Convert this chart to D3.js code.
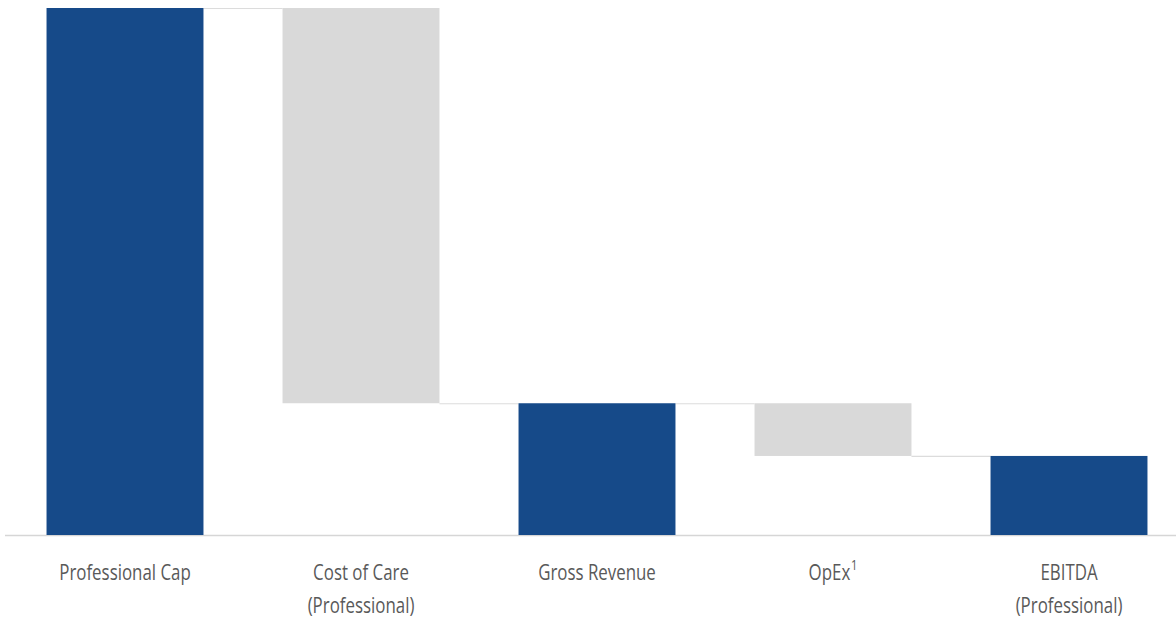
<!DOCTYPE html>
<html>
<head>
<meta charset="utf-8">
<script src="https://cdn.jsdelivr.net/npm/d3@7"></script>
<style>
  html, body { margin: 0; padding: 0; background: #ffffff; }
  svg { display: block; }
</style>
</head>
<body>
<svg id="chart" width="1176" height="627"></svg>
<script>
// ---- Data ----
const categories = ["Professional Cap", "Cost of Care (Professional)", "Gross Revenue", "OpEx", "EBITDA (Professional)"];
const labelLines = [["Professional Cap"], ["Cost of Care", "(Professional)"], ["Gross Revenue"], ["OpEx"], ["EBITDA", "(Professional)"]];
const labelSup = ["", "", "", "1", ""];
const deltas = [100, -75, null, -10, null];   // null = subtotal
const kinds = ["total", "decrease", "total", "decrease", "total"];

// ---- Build waterfall ----
let running = 0;
const bars = categories.map((c, i) => {
  let y0, y1;
  if (kinds[i] === "total") {
    if (deltas[i] !== null) running = deltas[i];
    y0 = 0; y1 = running;
  } else {
    const start = running;
    running = running + deltas[i];
    y0 = running; y1 = start;
  }
  return { cat: c, i, y0, y1, kind: kinds[i], end: running };
});

const svg = d3.select("#chart");
const x = d3.scaleBand().domain(categories).range([7, 1187]).paddingInner(0.335).paddingOuter(0.1675);
const y = d3.scaleLinear().domain([0, 100]).range([535, 8]);

const blue = "#164a89", grey = "#d9d9d9", lineCol = "#dcdcdc";

// connectors
const conn = svg.append("g");
bars.slice(0, -1).forEach((b, i) => {
  const nb = bars[i + 1];
  conn.append("line")
    .attr("x1", x(b.cat) + x.bandwidth())
    .attr("x2", x(nb.cat))
    .attr("y1", y(b.end) + 0.5).attr("y2", y(b.end) + 0.5)
    .attr("stroke", lineCol).attr("stroke-width", 1.2);
});

// axis baseline
svg.append("line")
  .attr("x1", 5).attr("x2", 1176)
  .attr("y1", y(0) + 0.5).attr("y2", y(0) + 0.5)
  .attr("stroke", "#d6d6d6").attr("stroke-width", 1.5);

// bars
svg.append("g").selectAll("rect").data(bars).join("rect")
  .attr("x", d => x(d.cat))
  .attr("width", x.bandwidth())
  .attr("y", d => y(d.y1))
  .attr("height", d => y(d.y0) - y(d.y1))
  .attr("fill", d => d.kind === "total" ? blue : grey);

// labels
const lg = svg.append("g");
bars.forEach((b, i) => {
  const cx = x(b.cat) + x.bandwidth() / 2;
  const g = lg.append("g").attr("transform", `translate(${cx},580) scale(0.75,1)`);
  labelLines[i].forEach((ln, k) => {
    const t = g.append("text")
      .attr("x", 0).attr("y", k * 33)
      .attr("text-anchor", "middle")
      .attr("font-family", "'Open Sans', 'Noto Sans', sans-serif")
      .attr("font-size", 22.5)
      .attr("fill", "#595959")
      .text(ln);
    if (k === 0 && labelSup[i]) {
      t.append("tspan").attr("dx", 1).attr("dy", -10).attr("font-size", 15).text(labelSup[i]);
    }
  });
});
</script>
</body>
</html>
